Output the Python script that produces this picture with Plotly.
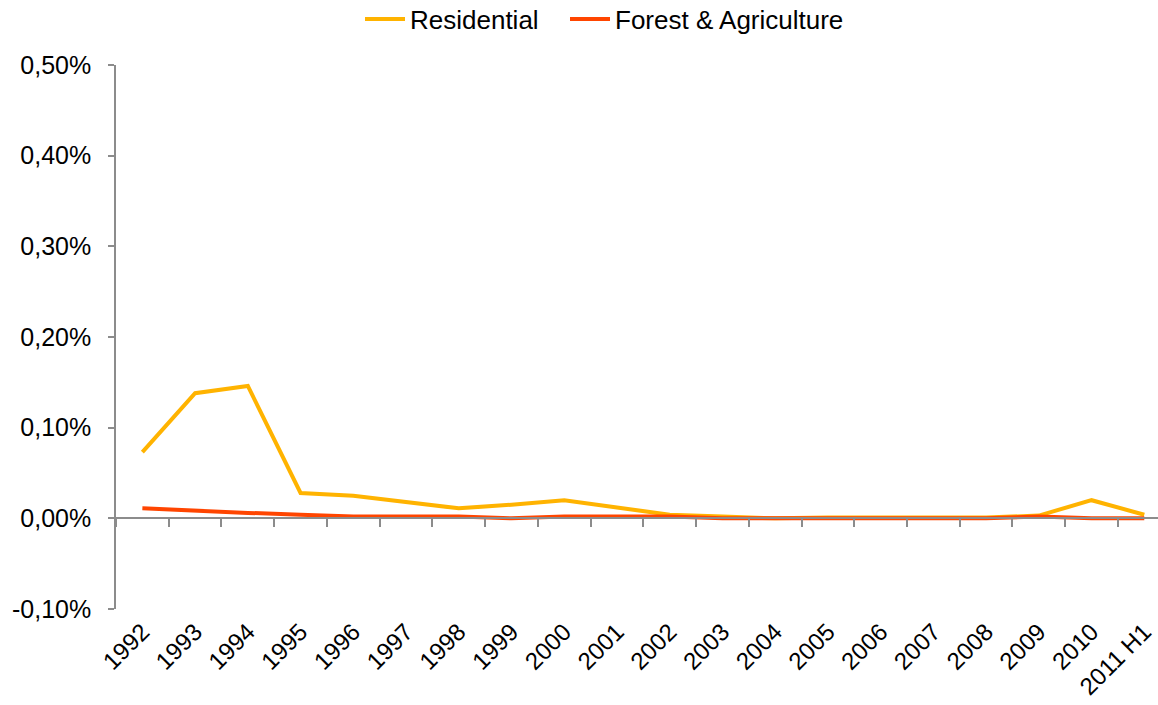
import plotly.graph_objects as go

years = ["1992", "1993", "1994", "1995", "1996", "1997", "1998", "1999", "2000", "2001",
         "2002", "2003", "2004", "2005", "2006", "2007", "2008", "2009", "2010", "2011 H1"]
residential = [0.00073, 0.00138, 0.00146, 0.00028, 0.00025, 0.00018, 0.00011, 0.00015, 0.00020, 0.00012,
               0.00004, 0.00002, 0.00000, 0.00001, 0.00001, 0.00002, 0.00001, 0.00003, 0.00020, 0.00004]
forest_agri = [0.00011, 0.00008, 0.00006, 0.00004, 0.00002, 0.00002, 0.00002, 0.00000, 0.00002, 0.00002,
               0.00002, 0.00000, 0.00000, 0.00000, 0.00000, 0.00000, 0.00000, 0.00002, 0.00000, 0.00000]
y_ticks = [-0.001, 0.0, 0.001, 0.002, 0.003, 0.004, 0.005]
y_ticktext = [("%.2f%%" % (v * 100)).replace(".", ",") for v in y_ticks]

FONT = "Liberation Sans, Arial, sans-serif"
AXIS_GRAY = "#8c8c8c"
x_range = [-0.5, 19.26]

fig = go.Figure()
fig.add_trace(go.Scatter(x=years, y=residential, name="Residential", mode="lines",
                         line=dict(color="#FFB300", width=4), xaxis="x2", legend="legend"))
fig.add_trace(go.Scatter(x=years, y=forest_agri, name="Forest & Agriculture", mode="lines",
                         line=dict(color="#FF4500", width=4), xaxis="x2", legend="legend2"))
# invisible trace to keep the label axis active
fig.add_trace(go.Scatter(x=years, y=[None] * len(years), showlegend=False, hoverinfo="skip",
                         mode="lines", xaxis="x"))

legend_common = dict(orientation="h", xref="container", xanchor="left",
                     yref="container", y=0.973, yanchor="middle",
                     font=dict(size=26), itemwidth=40, bgcolor="rgba(0,0,0,0)")

fig.update_layout(
    width=1158, height=705,
    margin=dict(l=116, r=0, t=65, b=96),
    paper_bgcolor="white", plot_bgcolor="white",
    font=dict(family=FONT, size=25, color="black"),
    showlegend=True,
    legend=dict(x=360 / 1158, **legend_common),
    legend2=dict(x=565 / 1158, **legend_common),
    xaxis=dict(type="category", categoryorder="array", categoryarray=years, range=x_range,
               showline=False, ticks="", showgrid=False, zeroline=False, automargin=False,
               tickangle=-45, tickfont=dict(size=24), ticklabelstandoff=3),
    xaxis2=dict(type="category", categoryorder="array", categoryarray=years, range=x_range,
                overlaying="x", anchor="free", position=1/6, side="bottom", automargin=False,
                showline=True, linecolor=AXIS_GRAY, linewidth=1.5,
                ticks="outside", tickson="boundaries", ticklen=8, tickcolor=AXIS_GRAY, tickwidth=1.5,
                showticklabels=False, showgrid=False, zeroline=False),
    yaxis=dict(range=[-0.001, 0.005], tickvals=y_ticks, ticktext=y_ticktext, automargin=False,
               showline=True, linecolor=AXIS_GRAY, linewidth=1.5,
               ticks="outside", ticklen=6, tickcolor=AXIS_GRAY, tickwidth=1.5,
               ticklabelstandoff=12,
               showgrid=False, zeroline=False, tickfont=dict(size=25)),
)

fig.write_html("out.html", config={"displayModeBar": False},
               post_script="document.body.style.margin='0';")
